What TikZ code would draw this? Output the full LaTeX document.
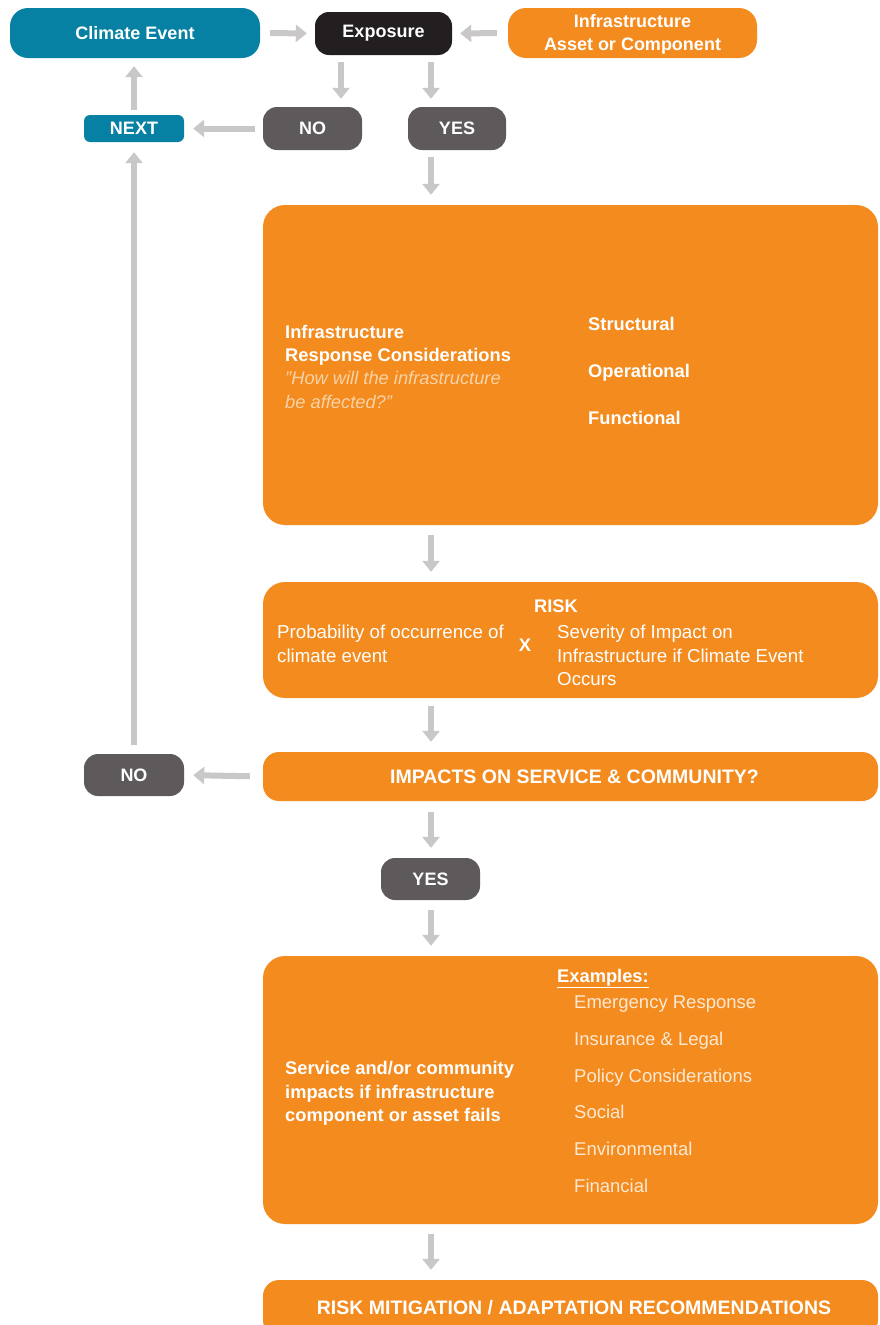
\documentclass[tikz,border=0pt]{standalone}
\usepackage{fontspec}
\setmainfont{Liberation Sans}
\usetikzlibrary{arrows.meta}
\definecolor{cteal}{HTML}{0681A3}
\definecolor{cblack}{HTML}{231F20}
\definecolor{corange}{HTML}{F38B1F}
\definecolor{cgray}{HTML}{5E5A5B}
\definecolor{carrow}{HTML}{C9C7C8}
\definecolor{ccream}{HTML}{F9D3A8}
\definecolor{clight}{HTML}{FDE9D3}
\tikzset{
  box/.style={rounded corners=#1, inner sep=0pt, text=white, align=center,
              font=\bfseries\fontsize{18}{23}\selectfont},
  box/.default=16pt,
  capsbox/.style={font=\bfseries\fontsize{19.5}{23}\selectfont},
  garrow/.style={draw=carrow, line width=6pt, -{Triangle[width=17pt,length=11pt]}},
  btxt/.style={inner sep=0pt, anchor=base west, text=white, font=\bfseries\fontsize{18.3}{22}\selectfont},
  rtxt/.style={inner sep=0pt, anchor=base west, text=white, font=\fontsize{18.7}{22}\selectfont},
  ltxt/.style={inner sep=0pt, anchor=base west, text=clight, font=\fontsize{18.5}{22}\selectfont},
  itxt/.style={inner sep=0pt, anchor=base west, text=ccream, font=\itshape\fontsize{18.3}{22}\selectfont},
}
\begin{document}
\begin{tikzpicture}[x=1pt,y=-1pt]
\useasboundingbox (0,0) rectangle (879,1325);
\coordinate (ax) at (431,0);
\coordinate (bx) at (341,0);
% top row
\node[box=18pt, fill=cteal, minimum width=250pt, minimum height=50pt] (climate) at (135,33) {Climate Event};
\node[box=14pt, fill=cblack, minimum width=137pt, minimum height=43pt] (expo) at (383.5,33.5) {Exposure};
\node[box=18pt, fill=corange, minimum width=249pt, minimum height=50pt] (infra) at (632.5,33) {\rule{0pt}{16pt}Infrastructure\\Asset or Component};
% second row
\node[box=6pt, fill=cteal, minimum width=100pt, minimum height=27pt] (next) at (134,128.5) {NEXT};
\node[box=14pt, fill=cgray, minimum width=99pt, minimum height=43pt] (no1) at (312.5,128.5) {NO};
\node[box=14pt, fill=cgray, minimum width=98pt, minimum height=43pt] (yes1) at (457,128.5) {YES};
% big boxes
\node[box=22pt, fill=corange, minimum width=615pt, minimum height=320pt] (resp) at (570.5,365) {};
\node[box=22pt, fill=corange, minimum width=615pt, minimum height=116pt] (risk) at (570.5,640) {};
\node[box=16pt, capsbox, fill=corange, minimum width=615pt, minimum height=49pt] (impacts) at (570.5,776.5) {\hspace*{8pt}IMPACTS ON SERVICE \& COMMUNITY?};
\node[box=14pt, fill=cgray, minimum width=100pt, minimum height=42pt] (no2) at (134,775) {NO};
\node[box=14pt, fill=cgray, minimum width=99pt, minimum height=42pt] (yes2) at (430.5,879) {YES};
\node[box=22pt, fill=corange, minimum width=615pt, minimum height=268pt] (serv) at (570.5,1090) {};
\node[box=16pt, capsbox, fill=corange, minimum width=615pt, minimum height=56pt] (mitig) at (570.5,1308) {\hspace*{7pt}RISK MITIGATION / ADAPTATION RECOMMENDATIONS};
% texts in response box
\node[btxt] (r1) at (285,338) {Infrastructure};
\node[btxt] (r2) at (285,361) {Response Considerations};
\node[itxt] (r3) at (285,384) {"How will the infrastructure};
\node[itxt] (r4) at (285,408) {be affected?"};
\node[btxt] (s1) at (588,330) {Structural};
\node[btxt] (s2) at (588,377) {Operational};
\node[btxt] (s3) at (588,424) {Functional};
% texts in risk box
\node[btxt, anchor=base] (k0) at (556,612) {RISK};
\node[rtxt] (k1) at (277,638) {Probability of occurrence of};
\node[rtxt] (k2) at (277,662) {climate event};
\node[btxt, anchor=base] (kx) at (525,651) {X};
\node[rtxt] (k3) at (557,638) {Severity of Impact on};
\node[rtxt] (k4) at (557,662) {Infrastructure if Climate Event};
\node[rtxt] (k5) at (557,685) {Occurs};
% texts in service box
\node[btxt] (v1) at (285,1074) {Service and/or community};
\node[btxt] (v2) at (285,1098) {impacts if infrastructure};
\node[btxt] (v3) at (285,1121) {component or asset fails};
\node[btxt] (ex) at (557,982) {\underline{Examples:}};
\node[ltxt] (e1) at (574,1008) {Emergency Response};
\node[ltxt] (e2) at (574,1045) {Insurance \& Legal};
\node[ltxt] (e3) at (574,1082) {Policy Considerations};
\node[ltxt] (e4) at (574,1118) {Social};
\node[ltxt] (e5) at (574,1155) {Environmental};
\node[ltxt] (e6) at (574,1192) {Financial};
% arrows
\draw[garrow, shorten <=10pt, shorten >=8pt] (climate.east) -- (expo.west);
\draw[garrow, shorten <=11pt, shorten >=8pt] (infra.west) -- (expo.east);
\draw[garrow, shorten <=7pt, shorten >=8pt] (expo.south -| bx) -- (no1.north -| bx);
\draw[garrow, shorten <=7pt, shorten >=8pt] (expo.south -| ax) -- (yes1.north -| ax);
\draw[garrow, shorten <=8pt, shorten >=9pt] (no1.west) -- (next.east);
\draw[garrow, shorten <=5pt, shorten >=8pt] (next.north) -- (climate.south -| next.north);
\draw[garrow, shorten <=7pt, shorten >=10pt] (yes1.south -| ax) -- (resp.north -| ax);
\draw[garrow, shorten <=10pt, shorten >=10pt] (resp.south -| ax) -- (risk.north -| ax);
\draw[garrow, shorten <=8pt, shorten >=10pt] (risk.south -| ax) -- (impacts.north -| ax);
\draw[garrow, shorten <=13pt, shorten >=9pt] (impacts.west) -- (no2.east);
\draw[garrow, shorten <=9pt, shorten >=10pt] (no2.north) -- (next.south);
\draw[garrow, shorten <=11pt, shorten >=10pt] (impacts.south -| ax) -- (yes2.north -| ax);
\draw[garrow, shorten <=10pt, shorten >=10pt] (yes2.south -| ax) -- (serv.north -| ax);
\draw[garrow, shorten <=10pt, shorten >=10pt] (serv.south -| ax) -- (mitig.north -| ax);
\end{tikzpicture}
\end{document}
